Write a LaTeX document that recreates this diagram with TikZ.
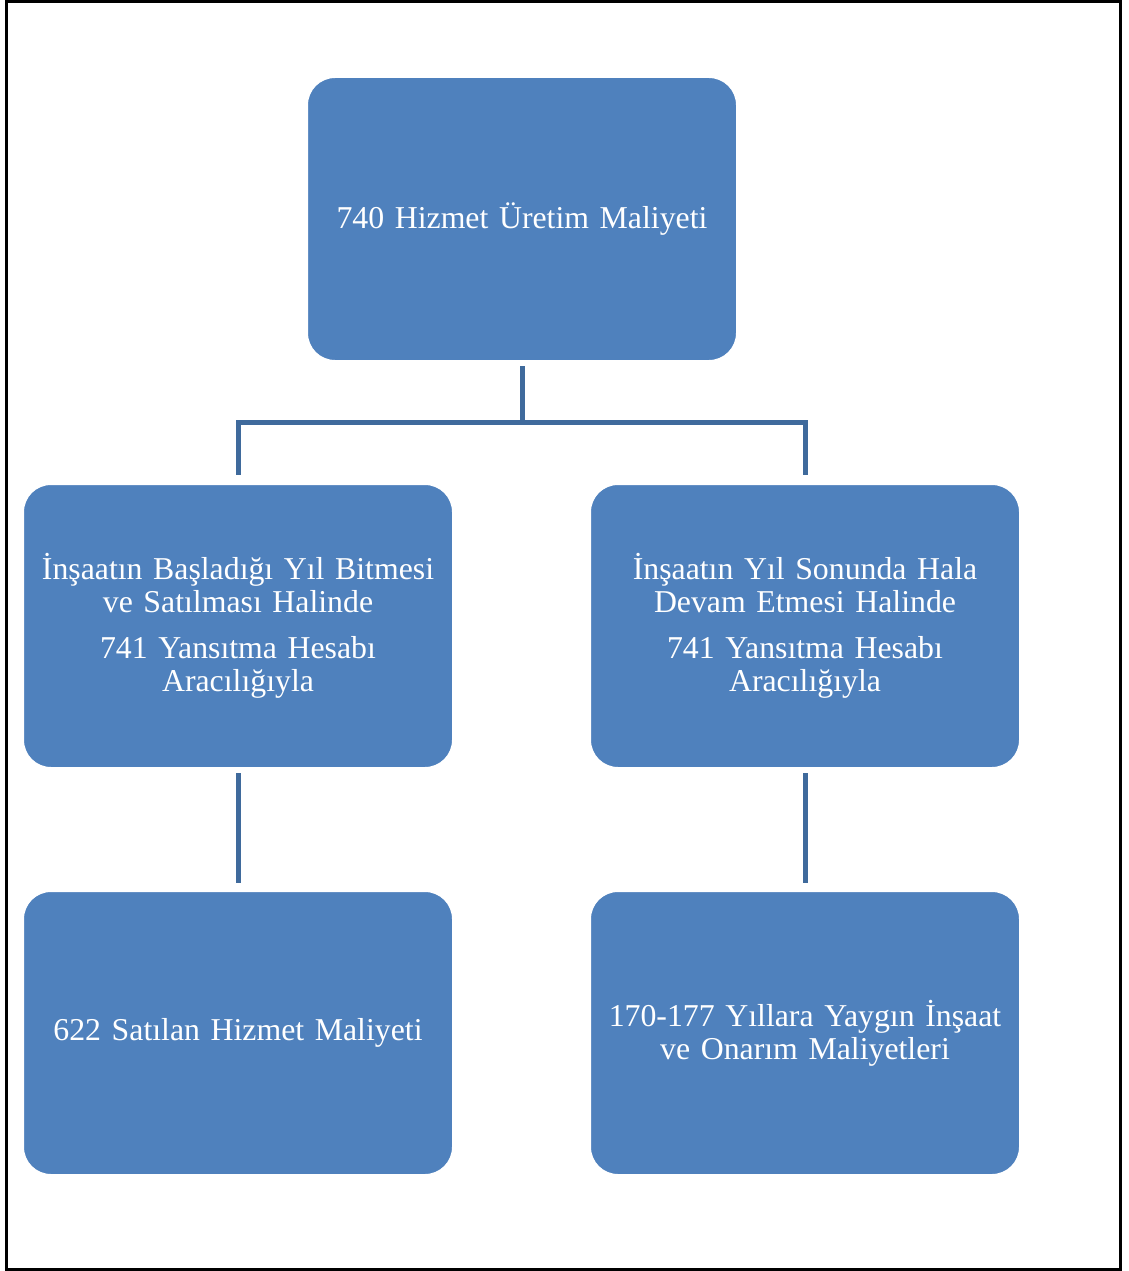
\documentclass[tikz,border=0pt]{standalone}
\usepackage{fontspec}
\setmainfont{Liberation Serif}
\definecolor{boxblue}{HTML}{4F81BD}
\definecolor{linkblue}{HTML}{3F6A9C}
\newcommand{\boxfont}{\fontsize{31.8}{33}\selectfont\spaceskip=5.6pt plus 2pt minus 1pt\relax}
\begin{document}
\begin{tikzpicture}[x=1pt,y=-1pt,
  box/.style={rectangle, rounded corners=28pt, fill=boxblue, draw=white, line width=2pt,
    minimum width=430pt, minimum height=284pt, text width=410pt, align=center,
    text=white, font=\boxfont, inner sep=0pt},
  conn/.style={draw=linkblue, line width=5pt}]
\useasboundingbox (0,0) rectangle (1129,1271);
\draw[line width=3pt] (6.5,1.5) rectangle (1120.5,1269.5);
\node[box] (top) at (522,219) {740 Hizmet Üretim Maliyeti};
\node[box] (ml) at (238,626) {İnşaatın Başladığı Yıl Bitmesi\\ve Satılması Halinde\\[13pt]741 Yansıtma Hesabı\\Aracılığıyla};
\node[box] (mr) at (805,626) {İnşaatın Yıl Sonunda Hala\\Devam Etmesi Halinde\\[13pt]741 Yansıtma Hesabı\\Aracılığıyla};
\node[box] (bl) at (238,1033) {622 Satılan Hizmet Maliyeti};
\node[box] (br) at (805,1033) {170-177 Yıllara Yaygın İnşaat\\ve Onarım Maliyetleri};
\draw[conn, shorten <=4pt, shorten >=8pt] (top.south) -- ++(0,60) -| (ml.north);
\draw[conn, shorten <=4pt, shorten >=8pt] (top.south) -- ++(0,60) -| (mr.north);
\draw[conn, shorten <=4pt, shorten >=7pt] (ml.south) -- (bl.north);
\draw[conn, shorten <=4pt, shorten >=7pt] (mr.south) -- (br.north);
\end{tikzpicture}
\end{document}
